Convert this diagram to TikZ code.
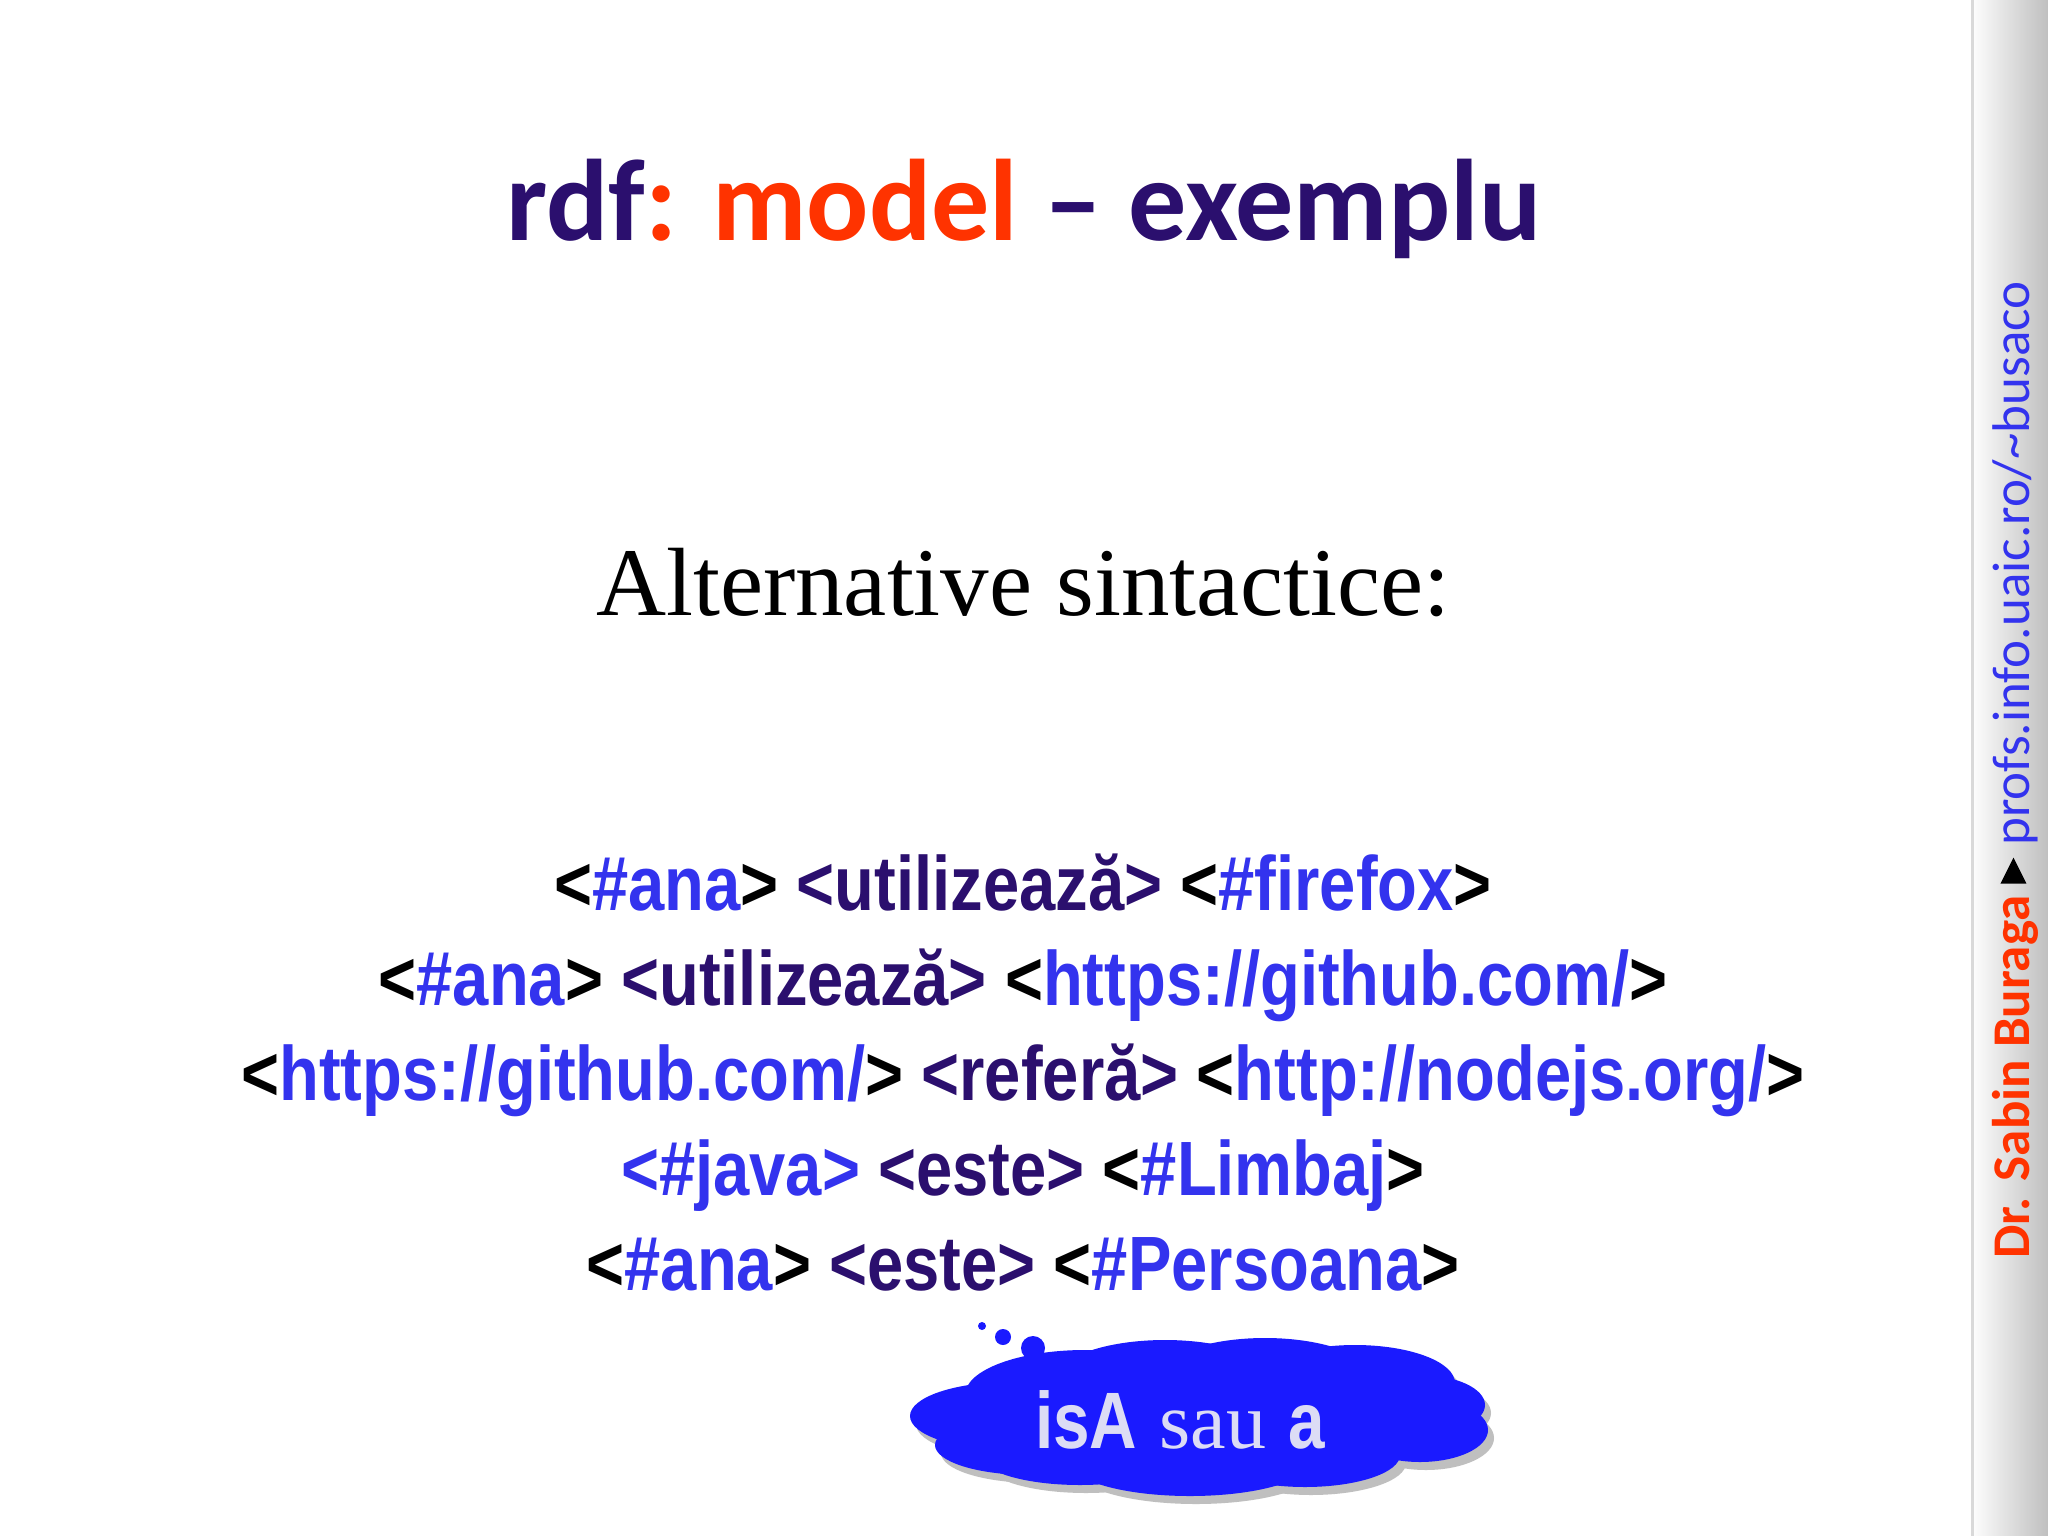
\documentclass[tikz,border=0pt]{standalone}
\usepackage{fontspec}
\setmainfont{Carlito}
\newfontfamily\serifx{Liberation Serif}
\newfontfamily\arialx{Liberation Sans}
\usetikzlibrary{shadows}
\definecolor{dpurple}{HTML}{2B0F6E}
\definecolor{ored}{HTML}{FF3300}
\definecolor{lblue}{HTML}{3333EE}
\definecolor{cblue}{HTML}{1A1AFF}
\definecolor{ctext}{HTML}{DCDCF5}
\newcommand{\bk}[1]{\textcolor{black}{#1}}
\newcommand{\bl}[1]{\textcolor{lblue}{#1}}
\newcommand{\pu}[1]{\textcolor{dpurple}{#1}}
\tikzset{tline/.style={font=\arialx\bfseries\fontsize{77}{80}\selectfont, inner sep=0pt, xscale=0.846, anchor=base},
 puff/.style={fill=cblue, draw=blue!60!cblue, line width=1.5pt}}
\begin{document}
\begin{tikzpicture}[x=1pt,y=-1pt]
\useasboundingbox (0,0) rectangle (2048,1536);
\fill[white] (0,0) rectangle (2048,1536);
\shade[left color=white, right color=black!25] (1970,0) rectangle (2048,1536);
\draw[black!15, line width=3pt] (1972,0) -- (1972,1536);
\node[font=\bfseries\fontsize{116}{120}\selectfont, text=dpurple] (title) at (1024,209) {rdf\textcolor{ored}{: model} – exemplu};
\node[font=\serifx\fontsize{97}{100}\selectfont] (sub) at (1023,583) {Alternative sintactice:};
\node[tline] (l1) at (1023,910) {\bk{<}\bl{\#ana}\bk{>} \pu{<utilizează>} \bk{<}\bl{\#firefox}\bk{>}};
\node[tline] (l2) at (1023,1005) {\bk{<}\bl{\#ana}\bk{>} \pu{<utilizează>} \bk{<}\bl{https://github.com/}\bk{>}};
\node[tline] (l3) at (1023,1100) {\bk{<}\bl{https://github.com/}\bk{>} \pu{<referă>} \bk{<}\bl{http://nodejs.org/}\bk{>}};
\node[tline] (l4) at (1023,1195) {\bl{<\#java>} \pu{<este>} \bk{<}\bl{\#Limbaj}\bk{>}};
\node[tline] (l5) at (1023,1290) {\bk{<}\bl{\#ana}\bk{>} \pu{<este>} \bk{<}\bl{\#Persoana}\bk{>}};
% cloud
\begin{scope}
\foreach \cx/\cy/\rx/\ry in {1010/1416/100/34, 1030/1445/95/30, 1085/1395/120/45, 1165/1380/110/40, 1265/1380/110/42, 1355/1383/100/38, 1420/1405/65/30, 1420/1430/68/32, 1305/1455/95/32, 1190/1462/120/34, 1080/1455/100/30}
  \fill[black!25] (\cx+6,\cy+8) ellipse[x radius=\rx, y radius=\ry];
\foreach \cx/\cy/\rx/\ry in {1010/1416/100/34, 1030/1445/95/30, 1085/1395/120/45, 1165/1380/110/40, 1265/1380/110/42, 1355/1383/100/38, 1420/1405/65/30, 1420/1430/68/32, 1305/1455/95/32, 1190/1462/120/34, 1080/1455/100/30}
  \fill[cblue] (\cx,\cy) ellipse[x radius=\rx, y radius=\ry];
\fill[cblue] (1000,1390) rectangle (1430,1460);
\end{scope}
\fill[cblue] (982,1326) circle (4);
\fill[cblue] (1003,1337) circle (8);
\fill[cblue] (1033,1348) circle (12);
\node[text=ctext, inner sep=0pt] (cloud) at (1180,1420) {\arialx\bfseries\fontsize{80}{82}\selectfont\scalebox{0.82}[1]{isA} {\serifx\mdseries sau} \scalebox{0.82}[1]{a}};
% sidebar
\node[rotate=90, font=\fontsize{53}{55}\selectfont, inner sep=0pt] (side) at (2015,770) {\textcolor{ored}{\bfseries Dr. Sabin Buraga} \raisebox{0.05em}{\tikz[x=1pt,y=1pt]\fill[black] (0,0) -- (26,13) -- (0,26) -- cycle;} \textcolor{lblue}{profs.info.uaic.ro/\textasciitilde busaco}};
\end{tikzpicture}
\end{document}
